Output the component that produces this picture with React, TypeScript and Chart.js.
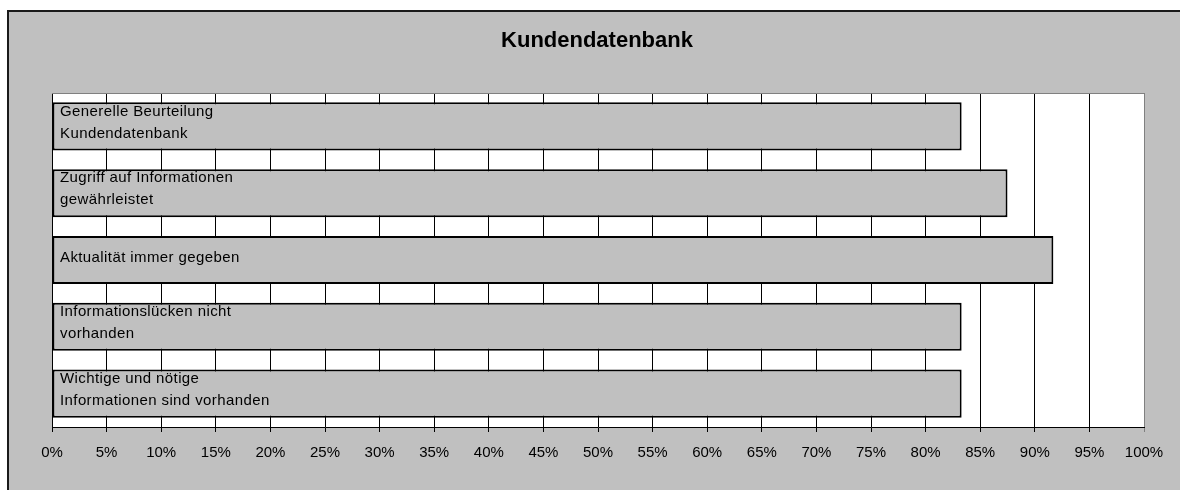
import React, { useEffect, useRef } from "react";
import { Chart, registerables } from "chart.js";

Chart.register(...registerables);

const TITLE = "Kundendatenbank";
const CATEGORIES: string[][] = [
  ["Generelle Beurteilung", "Kundendatenbank"],
  ["Zugriff auf Informationen", "gewährleistet"],
  ["Aktualität immer gegeben"],
  ["Informationslücken nicht", "vorhanden"],
  ["Wichtige und nötige", "Informationen sind vorhanden"],
];
const VALUES: number[] = [83.3, 87.5, 91.7, 83.3, 83.3];
const X_MIN = 0;
const X_MAX = 100;
const X_STEP = 5;

const FONT = "'Liberation Sans', Arial, sans-serif";

const framePlugin = {
  id: "frame",
  beforeDraw(chart: any) {
    const { ctx, chartArea, width, height } = chart;
    ctx.save();
    ctx.fillStyle = "#ffffff";
    ctx.fillRect(0, 0, width, height);
    ctx.fillStyle = "#c0c0c0";
    ctx.fillRect(8, 11, width - 8, height - 11);
    ctx.fillStyle = "#1a1a1a";
    ctx.fillRect(7, 10, 2, height - 10);
    ctx.fillRect(7, 10, width - 7, 2);
    ctx.fillStyle = "#ffffff";
    ctx.fillRect(chartArea.left, chartArea.top, chartArea.right - chartArea.left, chartArea.bottom - chartArea.top);
    ctx.fillStyle = "#000000";
    ctx.font = `bold 22px ${FONT}`;
    ctx.textAlign = "center";
    ctx.textBaseline = "middle";
    ctx.fillText(TITLE, 597, 41);
    ctx.restore();
  },
  beforeDatasetsDraw(chart: any) {
    const { ctx, chartArea } = chart;
    ctx.save();
    ctx.strokeStyle = "#808080";
    ctx.lineWidth = 1;
    ctx.beginPath();
    ctx.moveTo(chartArea.left, chartArea.top + 0.5);
    ctx.lineTo(chartArea.right + 0.5, chartArea.top + 0.5);
    ctx.lineTo(chartArea.right + 0.5, chartArea.bottom);
    ctx.stroke();
    ctx.restore();
  },
  afterDatasetsDraw(chart: any) {
    const { ctx, chartArea } = chart;
    const yScale = chart.scales.y;
    ctx.save();
    ctx.fillStyle = "#000000";
    ctx.font = `15px ${FONT}`;
    try {
      (ctx as any).letterSpacing = "0.4px";
    } catch (e) {}
    ctx.textAlign = "left";
    ctx.textBaseline = "middle";
    CATEGORIES.forEach((lines, i) => {
      const yc = yScale.getPixelForValue(i);
      if (lines.length === 1) {
        ctx.fillText(lines[0], chartArea.left + 8, yc - 2);
      } else {
        ctx.fillText(lines[0], chartArea.left + 8, yc - 15);
        ctx.fillText(lines[1], chartArea.left + 8, yc + 7);
      }
    });
    ctx.restore();
  },
};

export default function App() {
  const ref = useRef<HTMLCanvasElement | null>(null);
  useEffect(() => {
    if (!ref.current) return;
    const chart = new Chart(ref.current, {
      type: "bar",
      data: {
        labels: CATEGORIES.map((l) => l.join(" ")),
        datasets: [
          {
            data: VALUES,
            backgroundColor: "#c0c0c0",
            borderColor: "#000000",
            borderWidth: 2,
            borderSkipped: false,
            barPercentage: 0.72,
            categoryPercentage: 1,
          },
        ],
      },
      options: {
        indexAxis: "y",
        responsive: false,
        animation: false,
        devicePixelRatio: 1,
        layout: { padding: { left: 52, right: 36, top: 93, bottom: 0 } },
        plugins: {
          legend: { display: false },
          title: { display: false },
          tooltip: { enabled: false },
        },
        scales: {
          x: {
            type: "linear",
            min: X_MIN,
            max: X_MAX,
            afterFit(scale: any) {
              scale.height = 63;
            },
            ticks: {
              stepSize: X_STEP,
              color: "#000000",
              font: { family: FONT, size: 15 },
              padding: 12,
              maxRotation: 0,
              autoSkip: false,
              callback: (v: any) => `${v}%`,
            },
            grid: {
              color: (c: any) => (c.tick && c.tick.value === X_MAX ? "#808080" : "#000000"),
              lineWidth: 1,
              tickLength: 5,
              drawOnChartArea: true,
              drawTicks: true,
            },
            border: { display: true, color: "#000000", width: 1 },
          },
          y: {
            type: "category",
            display: false,
          },
        },
      },
      plugins: [framePlugin],
    } as any);
    return () => chart.destroy();
  }, []);
  return (
    <canvas
      ref={ref}
      width={1180}
      height={490}
      style={{ position: "fixed", left: 0, top: 0, width: 1180, height: 490 }}
    />
  );
}
